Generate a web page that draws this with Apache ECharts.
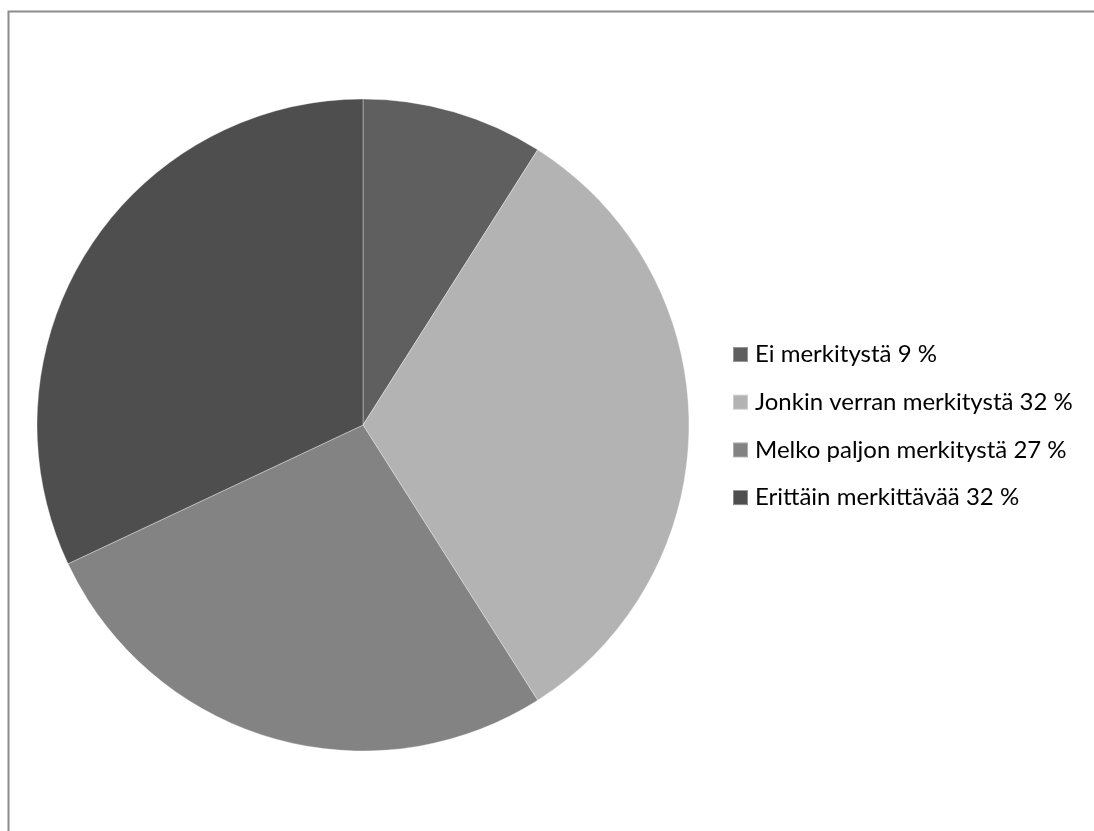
<!DOCTYPE html>
<html>
<head>
<meta charset="utf-8">
<style>
  html, body { margin: 0; padding: 0; background: #fff; }
  #chart { width: 1094px; height: 831px; }
</style>
<script src="https://cdn.jsdelivr.net/npm/echarts@6/dist/echarts.min.js"></script>
</head>
<body>
<div id="chart"></div>
<script>
// Vastausten jakauma
const categories = [
  'Ei merkitystä',
  'Jonkin verran merkitystä',
  'Melko paljon merkitystä',
  'Erittäin merkittävää'
];
const shares = [9, 32, 27, 32];
const sliceColors = ['#5f5f5f', '#b3b3b3', '#838383', '#4e4e4e'];

const chart = echarts.init(document.getElementById('chart'), null, { renderer: 'canvas' });

const data = categories.map((name, i) => ({
  name: name,
  value: shares[i],
  itemStyle: { color: sliceColors[i] }
}));

const labelFor = {};
categories.forEach((c, i) => { labelFor[c] = c + ' ' + shares[i] + ' %'; });

chart.setOption({
  animation: false,
  backgroundColor: '#ffffff',
  graphic: [{
    type: 'rect',
    shape: { x: 8.5, y: 11.5, width: 1200, height: 1000 },
    style: { fill: 'none', stroke: '#8c8c8c', lineWidth: 2 },
    silent: true
  }],
  legend: {
    orient: 'vertical',
    left: 732,
    top: 342.5,
    padding: 0,
    itemWidth: 15,
    itemHeight: 15,
    itemGap: 23.7,
    icon: 'rect',
    formatter: name => labelFor[name],
    textStyle: {
      fontFamily: 'Lato',
      fontSize: 24,
      lineHeight: 24,
      color: '#000',
      padding: [0, 0, 0, 2]
    },
    data: categories
  },
  series: [{
    type: 'pie',
    center: [363, 425],
    radius: [0, 326],
    startAngle: 90,
    clockwise: true,
    label: { show: false },
    labelLine: { show: false },
    itemStyle: { borderColor: 'rgba(255,255,255,0.35)', borderWidth: 1 },
    emphasis: { disabled: true },
    data: data
  }]
});
</script>
</body>
</html>
